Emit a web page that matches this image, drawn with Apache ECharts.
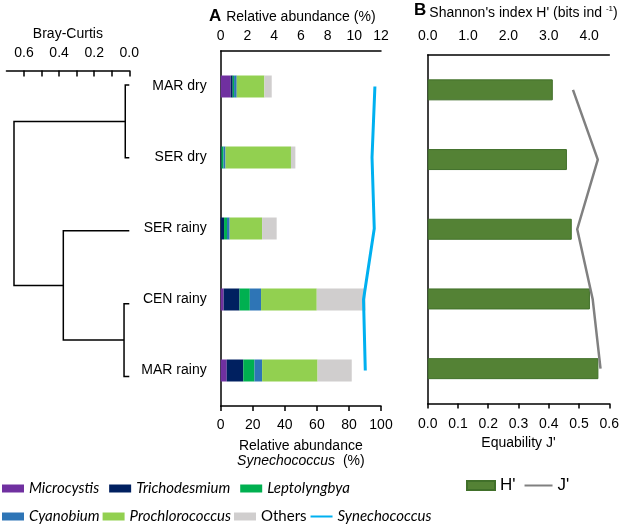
<!DOCTYPE html>
<html>
<head>
<meta charset="utf-8">
<script src="https://cdn.jsdelivr.net/npm/echarts@6/dist/echarts.min.js"></script>
<style>html,body{margin:0;padding:0;background:#fff}#c{width:624px;height:527px}</style>
</head>
<body>
<div id="c"></div>
<script>
// ---- data ----
const categories = ['MAR dry', 'SER dry', 'SER rainy', 'CEN rainy', 'MAR rainy'];
const microcystis     = [0.75, 0.00, 0.00, 0.22, 0.45];
const trichodesmium   = [0.15, 0.06, 0.25, 1.19, 1.24];
const leptolyngbya    = [0.10, 0.15, 0.22, 0.77, 0.84];
const cyanobium       = [0.20, 0.15, 0.20, 0.84, 0.57];
const prochlorococcus = [2.07, 4.90, 2.43, 4.17, 4.15];
const others          = [0.55, 0.33, 1.09, 3.65, 2.56];
const synechococcus   = [96.2, 94.4, 95.8, 89.1, 90.2];
const shannonH        = [3.10, 3.45, 3.57, 4.02, 4.23];
const equabilityJ     = [0.480, 0.562, 0.494, 0.545, 0.571];
// dendrogram (Bray-Curtis): leaf order and merges [childA, childB, height]
const dendroLeaves = ['MAR dry', 'SER dry', 'SER rainy', 'CEN rainy', 'MAR rainy'];
const dendroMerges = [
  ['MAR dry', 'SER dry', 0.023],
  ['CEN rainy', 'MAR rainy', 0.030],
  ['SER rainy', 'm1', 0.376],
  ['m0', 'm2', 0.657]
];
const dendroTicks = [0, 0.1, 0.2, 0.3, 0.4, 0.5, 0.6];
const dendroTickLabels = [0, 0.2, 0.4, 0.6];
const shannonTickLabels = [0, 1, 2, 3, 4];

// ---- build dendrogram segments ----
const nodes = {};
dendroLeaves.forEach((n, i) => { nodes[n] = { y: i, h: 0 }; });
const dendroLines = [];
dendroMerges.forEach((m, i) => {
  const a = nodes[m[0]], b = nodes[m[1]], h = m[2];
  dendroLines.push({ coords: [[a.h, a.y], [h, a.y], [h, b.y], [b.h, b.y]] });
  nodes['m' + i] = { y: (a.y + b.y) / 2, h: h };
});

const FONT = '"Liberation Sans", Arial, sans-serif';
const LFONT = 'Lato, sans-serif';
const black = '#000';
const axisLineStyle = { show: true, onZero: false, lineStyle: { color: black, width: 1.5 } };

const colors = {
  Microcystis: '#7030a0', Trichodesmium: '#002060', Leptolyngbya: '#00b050',
  Cyanobium: '#2e75b6', Prochlorococcus: '#92d050', Others: '#d0cece', Synechococcus: '#00b0f0'
};
const stackData = [
  ['Microcystis', microcystis], ['Trichodesmium', trichodesmium], ['Leptolyngbya', leptolyngbya],
  ['Cyanobium', cyanobium], ['Prochlorococcus', prochlorococcus], ['Others', others]
];

const series = [
  {
    type: 'lines', coordinateSystem: 'cartesian2d', xAxisIndex: 0, yAxisIndex: 0,
    polyline: true, silent: true,
    lineStyle: { color: black, width: 1.5, opacity: 1 },
    data: dendroLines
  }
];
stackData.forEach(([name, vals]) => {
  series.push({
    name: name, type: 'bar', stack: 'a', xAxisIndex: 1, yAxisIndex: 1,
    barWidth: 22, itemStyle: { color: colors[name] },
    data: vals
  });
});
series.push({
  name: 'Synechococcus', type: 'line', xAxisIndex: 2, yAxisIndex: 1,
  symbol: 'none', lineStyle: { color: colors.Synechococcus, width: 3 },
  itemStyle: { color: colors.Synechococcus },
  data: synechococcus.map((v, i) => [v, categories[i]])
});
series.push({
  name: "H'", type: 'bar', xAxisIndex: 3, yAxisIndex: 2, barWidth: 21,
  itemStyle: { color: '#548235', borderColor: '#41702a', borderWidth: 1 },
  data: shannonH
});
series.push({
  name: "J'", type: 'line', xAxisIndex: 4, yAxisIndex: 2,
  symbol: 'none', lineStyle: { color: '#808080', width: 2.5 },
  itemStyle: { color: '#808080' },
  data: equabilityJ.map((v, i) => [v, categories[i]])
});

const legendText = {
  fontFamily: LFONT, fontSize: 15, color: black,
  rich: { i: { fontStyle: 'italic', fontFamily: LFONT, fontSize: 15, color: black },
          n: { fontStyle: 'normal', fontFamily: LFONT, fontSize: 15, color: black } }
};
const legFmt = n => n === 'Others' ? '{n|' + n + '}' : '{i|' + n + '}';
const row1 = ['Microcystis', 'Trichodesmium', 'Leptolyngbya'];
const row2 = ['Cyanobium', 'Prochlorococcus', 'Others', 'Synechococcus'];
const hiddenSymbol = { color: 'rgba(0,0,0,0)', opacity: 0, borderWidth: 0 };

const option = {
  animation: false,
  textStyle: { fontFamily: FONT, color: black },
  grid: [
    { left: 6.45, top: 70.4, width: 122.85, height: 342.6 },
    { left: 220.7, top: 51, width: 160.3, height: 355 },
    { left: 427.7, top: 53.5, width: 181.6, height: 350 }
  ],
  xAxis: [
    {
      gridIndex: 0, type: 'value', min: 0, max: 0.7, interval: 0.1, inverse: true, position: 'top',
      axisLine: axisLineStyle,
      axisTick: { show: true, inside: true, length: 6, lineStyle: { color: black, width: 1.5 }, customValues: dendroTicks },
      axisLabel: { customValues: dendroTickLabels, formatter: v => v.toFixed(1), fontSize: 14, color: black, margin: 10 },
      splitLine: { show: false },
      name: 'Bray-Curtis', nameLocation: 'middle', nameGap: 26,
      nameTextStyle: { fontSize: 14, color: black }
    },
    {
      gridIndex: 1, type: 'value', min: 0, max: 12, interval: 2, position: 'top',
      axisLine: axisLineStyle, axisTick: { show: false },
      axisLabel: { fontSize: 14, color: black, margin: 8 },
      splitLine: { show: false },
      name: 'Relative abundance (%)', nameLocation: 'middle', nameGap: 26,
      nameTextStyle: { fontSize: 14, color: black }
    },
    {
      gridIndex: 1, type: 'value', min: 0, max: 100, interval: 20, position: 'bottom',
      axisLine: axisLineStyle,
      axisTick: { show: true, length: 5, lineStyle: { color: black, width: 1.5 } },
      axisLabel: { fontSize: 14, color: black, margin: 12 },
      splitLine: { show: false },
      name: '{n|Relative abundance}\n{i|Synechococcus}{n|  (%)}', nameLocation: 'middle', nameGap: 33,
      nameTextStyle: { fontSize: 14, color: black, lineHeight: 15,
        rich: { n: { fontSize: 14, color: black, lineHeight: 15 }, i: { fontSize: 14, color: black, fontStyle: 'italic', lineHeight: 15 } } }
    },
    {
      gridIndex: 2, type: 'value', min: 0, max: 4.5, interval: 1, position: 'top',
      axisLine: axisLineStyle, axisTick: { show: false },
      axisLabel: { customValues: shannonTickLabels, formatter: v => v.toFixed(1), fontSize: 14, color: black, margin: 12 },
      splitLine: { show: false },
      name: "{n|Shannon's index H' (bits ind }{s|-1}{n|)}", nameLocation: 'middle', nameGap: 34,
      nameTextStyle: { fontSize: 14, color: black, padding: [0, 0, 0, 10],
        rich: { n: { fontSize: 14, color: black }, s: { fontSize: 8, color: black, padding: [0, 0, 8, 0] } } }
    },
    {
      gridIndex: 2, type: 'value', min: 0, max: 0.6, interval: 0.1, position: 'bottom',
      axisLine: axisLineStyle,
      axisTick: { show: true, length: 5, lineStyle: { color: black, width: 1.5 } },
      axisLabel: { formatter: v => v.toFixed(1), fontSize: 14, color: black, margin: 14 },
      splitLine: { show: false },
      name: "Equability J'", nameLocation: 'middle', nameGap: 31,
      nameTextStyle: { fontSize: 14, color: black }
    }
  ],
  yAxis: [
    { gridIndex: 0, type: 'value', min: -0.2, max: 4.5, inverse: true, show: false },
    {
      gridIndex: 1, type: 'category', data: categories, inverse: true,
      axisLine: axisLineStyle, axisTick: { show: false },
      axisLabel: { fontSize: 14, color: black, margin: 14, padding: [6, 0, 0, 0] }
    },
    {
      gridIndex: 2, type: 'category', data: categories, inverse: true,
      axisLine: axisLineStyle, axisTick: { show: false }, axisLabel: { show: false }
    }
  ],
  legend: [
    {
      data: row1.map(n => ({ name: n, icon: 'rect' })), left: 2, top: 481, padding: 0,
      itemWidth: 22, itemHeight: 8, itemGap: 10, formatter: legFmt, textStyle: legendText
    },
    {
      data: row2.map(n => n === 'Synechococcus' ? { name: n, itemStyle: hiddenSymbol } : { name: n, icon: 'rect' }),
      left: 2, top: 509, padding: 0,
      itemWidth: 22, itemHeight: 8, itemGap: 3, formatter: legFmt, textStyle: legendText
    },
    {
      data: [{ name: "H'", icon: 'rect' }, { name: "J'", itemStyle: hiddenSymbol }], left: 466, top: 477, padding: 0,
      itemWidth: 28, itemHeight: 9, itemGap: 8,
      textStyle: { fontSize: 17, color: black, fontFamily: FONT }
    }
  ],
  graphic: [
    { type: 'text', left: 209, top: 8, style: { text: 'A', font: 'bold 17px ' + FONT, fill: black } },
    { type: 'text', left: 414, top: 2, style: { text: 'B', font: 'bold 17px ' + FONT, fill: black } }
  ],
  series: series
};

const chart = echarts.init(document.getElementById('c'), null, { renderer: 'canvas' });
chart.setOption(option);
</script>
</body>
</html>
